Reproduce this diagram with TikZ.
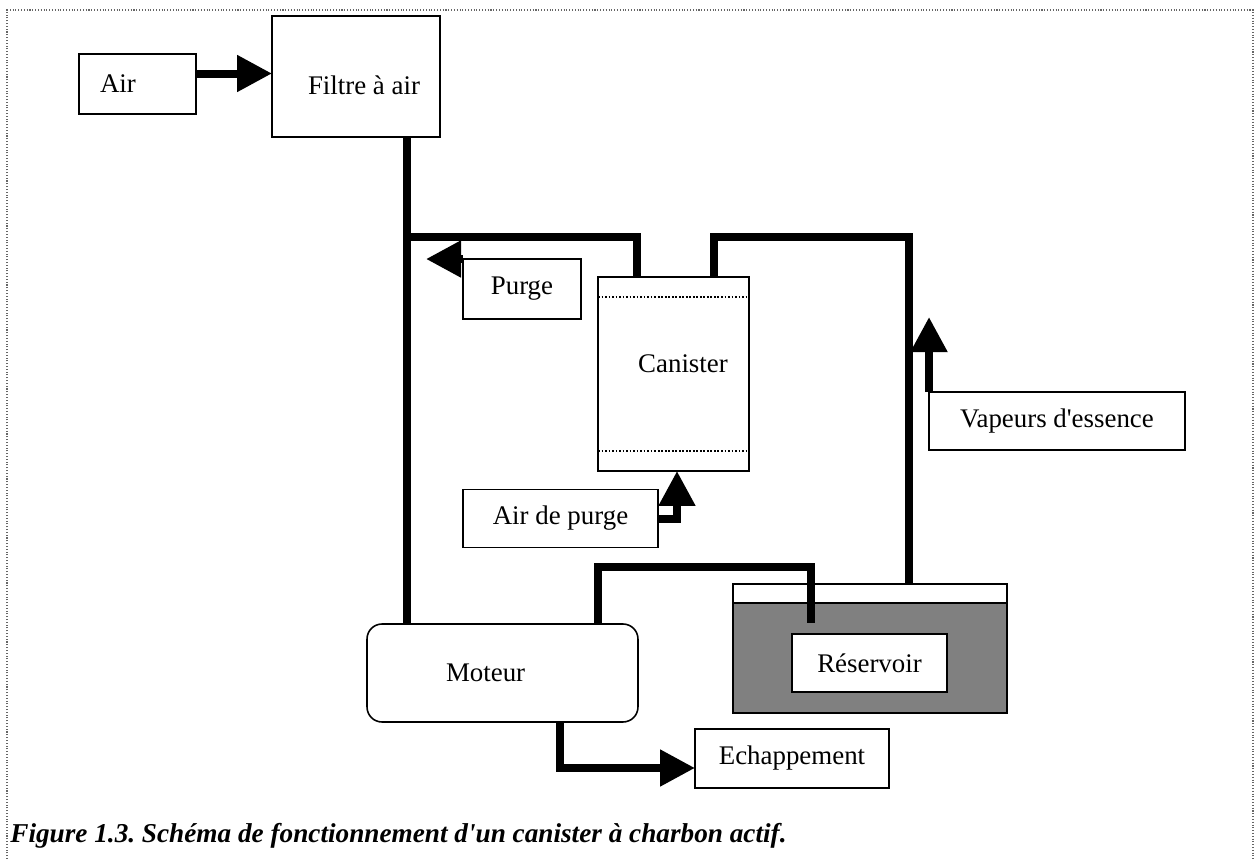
\documentclass[tikz,border=0pt]{standalone}
\usepackage{fontspec}
\setmainfont{Liberation Serif}
\usetikzlibrary{arrows.meta}

\begin{document}
\frenchspacing
\begin{tikzpicture}[x=0.02cm,y=-0.02cm,line join=miter]
	\def \toppipe{237}
	\def \tankpipe{567}
	\def \exhaust{768}
	\tikzstyle{box}=[draw=black,line width=0.9pt,inner sep=0pt,outer sep=0pt,font=\fontsize{15.3}{18}\selectfont]
	\tikzstyle{pipe}=[draw=black,line width=0.16cm]
	\tikzstyle{flow}=[pipe,-{Triangle[length=0.7cm,width=0.7cm]}]
	\tikzstyle{caption}=[anchor=west,inner sep=0pt,font=\fontsize{15.5}{18}\selectfont\bfseries\itshape]
	\useasboundingbox (0,0) rectangle (1259,859);
	% frame
	\draw[black!60,densely dotted,line width=0.6pt] (7,859) -- (7,10) -- (1253,10) -- (1253,859);
	
	% boxes
	\node[box,minimum width=2.34cm,minimum height=1.2cm]	(air)		at (137.5,84)	{\makebox[1.5cm][l]{Air}};
	\node[box,minimum width=3.36cm,minimum height=2.42cm]	(filtre)	at (356,76.5)	{\raisebox{-0.18cm}[\height][\depth]{\hspace{0.32cm}Filtre à air}};
	\node[box,minimum width=2.36cm,minimum height=1.2cm]	(purge)		at (522,289)	{Purge};
	\node[box,minimum width=3.02cm,minimum height=3.88cm]	(canister)	at (673.5,374)	{\raisebox{0.4cm}{\hspace{0.38cm}Canister}};
	\node[box,minimum width=3.9cm,minimum height=1.16cm]	(apurge)	at (560.5,518.5) {Air de purge};
	\node[box,minimum width=5.12cm,minimum height=1.16cm]	(vapeurs)	at (1057,421)	{Vapeurs d\textquotesingle essence};
	\node[box,minimum width=5.42cm,minimum height=1.96cm,rounded corners=0.3cm] (moteur) at (502.5,673) {\makebox[2.26cm][l]{Moteur}};
	\node[box,minimum width=5.48cm,minimum height=2.58cm]	(tank)		at (870,648.5)	{};
	\node[box,minimum width=3.88cm,minimum height=1.18cm]	(echap)		at (792,758.5)	{Echappement};
	
	% tank contents
	\fill[black!50] ([yshift=-0.38cm]tank.north west) rectangle (tank.south east);
	\draw[line width=0.9pt] ([yshift=-0.38cm]tank.north west) -- ([yshift=-0.38cm]tank.north east);
	\draw[line width=0.9pt] (tank.north west) rectangle (tank.south east);
	\node[box,fill=white,minimum width=3.1cm,minimum height=1.16cm] (res) at (869.5,663) {Réservoir};
	
	% canister layers
	\draw[densely dotted,line width=1pt] ([yshift=-0.4cm]canister.north west) -- ([yshift=-0.4cm]canister.north east);
	\draw[densely dotted,line width=1pt] ([yshift=0.4cm]canister.south west) -- ([yshift=0.4cm]canister.south east);
	
	% pipe corners
	\coordinate (jl)	at (407,\toppipe);
	\coordinate (cl)	at (637,\toppipe);
	\coordinate (cr)	at (714,\toppipe);
	\coordinate (jr)	at (909,\toppipe);
	\coordinate (ml)	at (598,\tankpipe);
	\coordinate (mr)	at (811,\tankpipe);
	\coordinate (dip)	at (811,623);
	\coordinate (ex)	at (560,\exhaust);
	
	% pipes
	\draw[pipe] (filtre.south -| jl) -- (moteur.north -| jl);
	\draw[pipe] (jl) -- (cl) -- (canister.north -| cl);
	\draw[pipe] (canister.north -| cr) -- (cr) -- (jr) -- (tank.north -| jr);
	\draw[pipe] (moteur.north -| ml) -- (ml) -- (mr) -- (dip);
	
	% flows
	\draw[flow] ([yshift=0.21cm]air.east) -- ([yshift=0.21cm]air.east -| filtre.west);
	\draw[flow] (purge.north west) -- ++(-37,0);
	\draw[flow] (apurge.east) -| ([xshift=0.07cm]canister.south);
	\draw[flow] (vapeurs.north west) -- ++(0,-75);
	\draw[flow] (moteur.south -| ex) |- (echap.west |- ex);
	
	\node[caption] (fig) at (10,836) {Figure 1.3. Schéma de fonctionnement d\textquotesingle un canister à charbon actif.};
\end{tikzpicture}
\end{document}
